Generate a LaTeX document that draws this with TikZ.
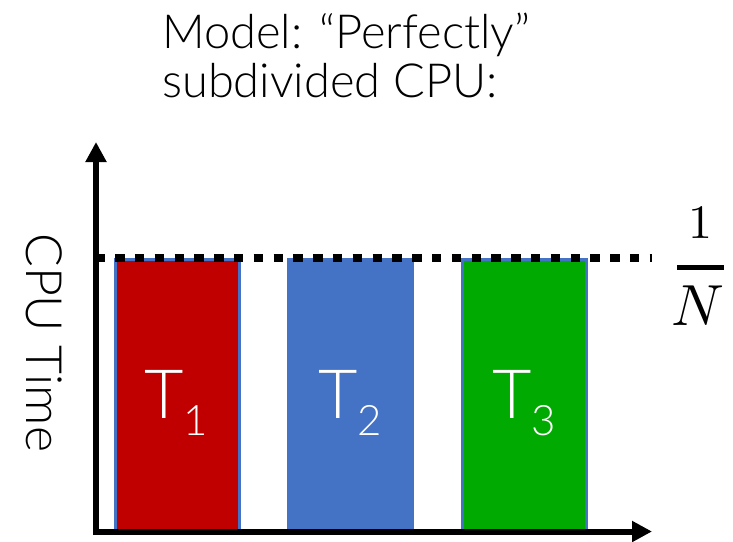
\documentclass[tikz,border=0pt]{standalone}
\usepackage{fontspec}
\usepackage{unicode-math}
\setmainfont{Lato Light}
\setmathfont{Latin Modern Math}
\usetikzlibrary{arrows.meta}
\definecolor{tred}{HTML}{C00000}
\definecolor{tblue}{HTML}{4472C4}
\definecolor{tgreen}{HTML}{00AA00}
\begin{document}
\begin{tikzpicture}[x=1pt,y=-1pt,
  bar/.style={draw=tblue, line width=3pt, minimum width=124pt, minimum height=270.5pt, inner sep=0pt},
  axisline/.style={line width=6pt, -{Triangle[length=20pt,width=20pt]}},
  lbl/.style={text=white, inner sep=0pt, anchor=base, font=\fontsize{68}{68}\selectfont},
  ttl/.style={inner sep=0pt, anchor=base west, font=\fontsize{47}{47}\selectfont},
  levelline/.style={line width=8pt, dash pattern=on 9.5pt off 10.3pt}
]
\useasboundingbox (0,0) rectangle (733,541);
% title
\node[ttl] (t1) at (162,48) {Model: “Perfectly”};
\node[ttl] (t2) at (162,97) {subdivided CPU:};
% bars
\node[bar, fill=tred] (b1) at (177.5,394.75) {};
\node[bar, fill=tblue] (b2) at (350.5,394.75) {};
\node[bar, fill=tgreen] (b3) at (524.5,394.75) {};
\node[lbl] (l1) at (176,418) {T\raisebox{-17pt}{\fontsize{42}{42}\selectfont 1}};
\node[lbl] (l2) at (350,418) {T\raisebox{-17pt}{\fontsize{42}{42}\selectfont 2}};
\node[lbl] (l3) at (524,418) {T\raisebox{-17pt}{\fontsize{42}{42}\selectfont 3}};
% level line
\coordinate (ls) at (95.3,257.5);
\coordinate (le) at (652,257.5);
\draw[levelline] (ls) -- (le);
% axes
\coordinate (yb) at (96,535);
\coordinate (yt) at (96,142);
\coordinate (xb) at (93,531.5);
\coordinate (xt) at (652,531.5);
\draw[axisline] (yb) -- (yt);
\draw[axisline] (xb) -- (xt);
% axis label
\node[rotate=-90, anchor=base west, inner sep=0pt, font=\fontsize{50}{50}\selectfont] (yl) at (27,233) {CPU Time};
% fraction
\node[anchor=base, inner sep=0pt, font=\fontsize{48}{48}\selectfont] (num) at (700.5,238) {$1$};
\node[anchor=base, inner sep=0pt, font=\fontsize{58}{58}\selectfont] (den) at (697.5,325) {$N$};
\coordinate (fl) at (677,267.5);
\coordinate (fr) at (724,267.5);
\draw[line width=4.5pt] (fl) -- (fr);
\end{tikzpicture}
\end{document}
